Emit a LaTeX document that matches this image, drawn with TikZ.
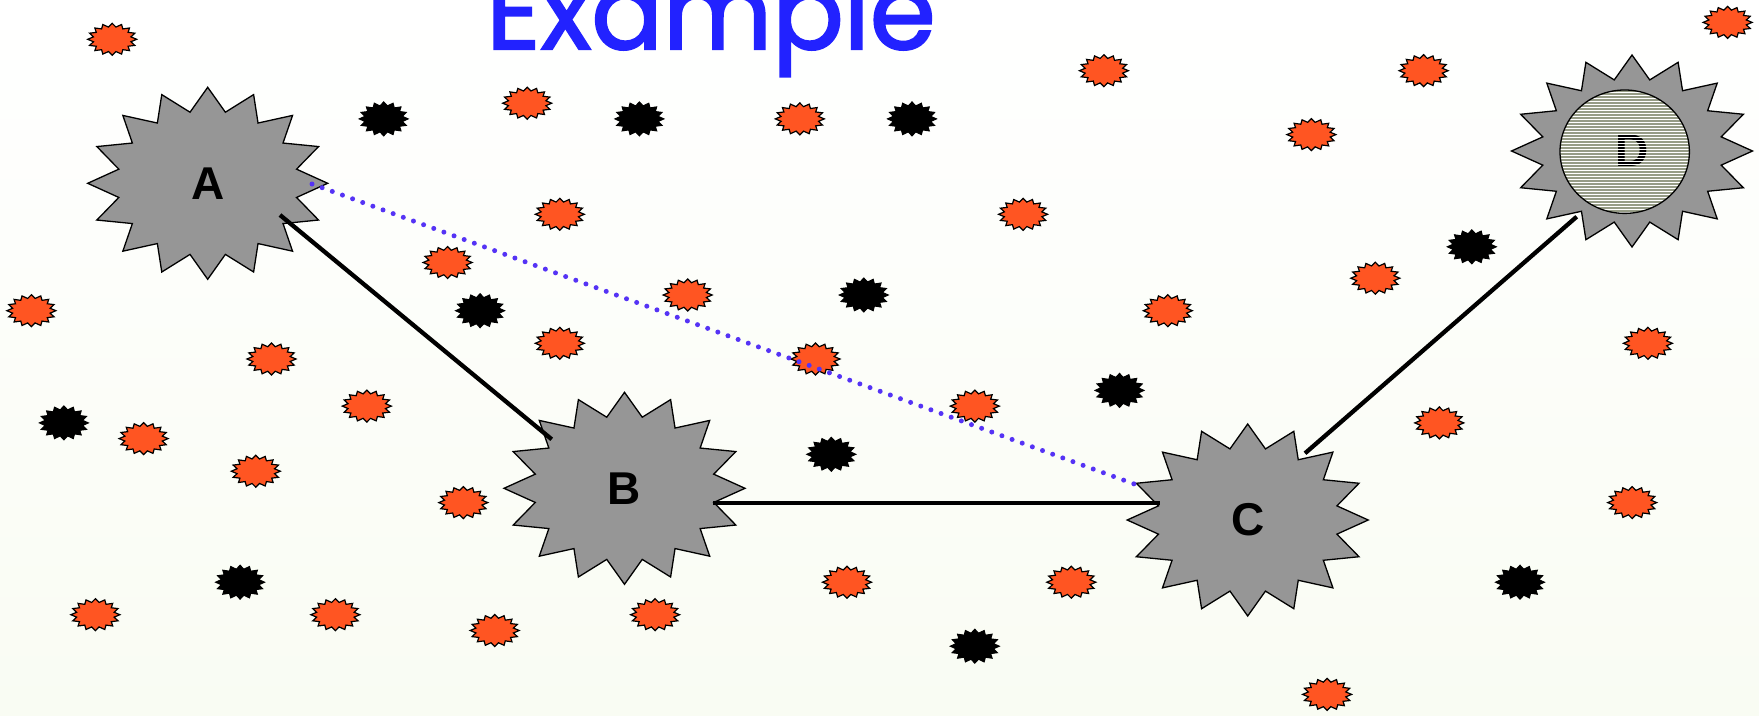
\documentclass[tikz,border=0pt]{standalone}
\usepackage{fontspec}
\setmainfont{Liberation Sans}
\newfontfamily\titlefont[FakeBold=2]{Poppins}
\definecolor{starorange}{RGB}{255,85,34}
\definecolor{stargray}{RGB}{150,150,150}
\definecolor{titleblue}{RGB}{34,34,255}
\definecolor{dotblue}{RGB}{85,51,245}
\definecolor{stripe}{RGB}{150,156,134}
\definecolor{bgbottom}{RGB}{249,252,243}
\newcommand\starplot[5]{plot[variable=\k, samples at={0,...,31}] ({#1+#3*(1-#5*mod(\k,2))*cos(90+11.25*\k)},{#2+#4*(1-#5*mod(\k,2))*sin(90+11.25*\k)}) -- cycle}
\tikzset{
  bigstarshape/.style={fill=stargray, draw=black, line width=1.3pt, line join=miter},
  orstar/.style={fill=starorange, draw=black, line width=1.2pt},
  blstar/.style={fill=black, draw=black, line width=1pt},
  lbl/.style={font=\bfseries\fontsize{46}{46}\selectfont, inner sep=0pt},
  edgeline/.style={line width=4.3pt, black},
  dotlink/.style={dotblue, line width=5pt, line cap=round, dash pattern=on 0pt off 10.8pt},
}
\newcommand\ostar[2]{\draw[orstar] \starplot{#1}{#2}{24.5}{16}{0.22};}
\newcommand\bstar[2]{\draw[blstar] \starplot{#1}{#2}{24.5}{17}{0.22};}
\begin{document}
\begin{tikzpicture}[x=1pt,y=-1pt]
\useasboundingbox (0,0) rectangle (1759,715);
\clip (0,0) rectangle (1759,715);
\shade[top color=white, middle color=white, bottom color=bgbottom] (0,0) rectangle (1759,715);
% title
\node[font=\titlefont\fontsize{106}{106}\selectfont, text=titleblue, anchor=base west, inner sep=0pt] (title) at (486,49) {Example};
% small orange stars
\ostar{112.2}{39.3}
\ostar{527.2}{103.2}
\ostar{799.8}{118.9}
\ostar{1103.9}{70.7}
\ostar{1423.6}{70.7}
\ostar{1727.6}{22.4}
\ostar{1311.4}{134.6}
\ostar{559.8}{214.3}
\ostar{1023.1}{214.3}
\ostar{447.6}{262.5}
\ostar{31.4}{310.7}
\ostar{687.7}{295}
\ostar{1375.3}{278.2}
\ostar{1167.8}{310.7}
\ostar{271.5}{359}
\ostar{559.8}{343.3}
\ostar{815.5}{359}
\ostar{1647.9}{343.3}
\ostar{366.8}{406.1}
\ostar{143.6}{438.6}
\ostar{974.8}{406.1}
\ostar{1439.3}{422.9}
\ostar{255.8}{471.2}
\ostar{463.3}{502.6}
\ostar{1632.2}{502.6}
\ostar{95.4}{614.7}
\ostar{335.4}{614.7}
\ostar{494.7}{630.5}
\ostar{655.1}{614.7}
\ostar{847}{582.2}
\ostar{1071.3}{582.2}
\ostar{1327.1}{694.4}
% small black stars
\bstar{383.7}{118.9}
\bstar{639.4}{118.9}
\bstar{912}{118.9}
\bstar{480.1}{310.7}
\bstar{863.8}{295}
\bstar{1471.8}{246.8}
\bstar{63.9}{422.9}
\bstar{1119.5}{390.4}
\bstar{831.3}{454.3}
\bstar{240.1}{582.2}
\bstar{974.8}{646.2}
\bstar{1520}{582.2}
% big stars
\draw[bigstarshape] \starplot{207.7}{183.3}{120}{96}{0.245};
\draw[bigstarshape] \starplot{624.5}{488.3}{120.5}{96}{0.245};
\draw[bigstarshape] \starplot{1247.7}{520}{120.5}{96}{0.245};
\draw[bigstarshape] \starplot{1632}{151}{120.5}{96}{0.245};
\node[lbl] (A) at (207.7,183.3) {A};
\node[lbl] (B) at (624.5,488.3) {B};
\node[lbl] (C) at (1247.7,520) {C};
% D with striped ellipse
\begin{scope}
  \clip (1624.7,151.7) ellipse [x radius=64.7pt, y radius=61.7pt];
  \fill[stripe] (1550,80) rectangle (1700,220);
  \node[lbl] (D) at (1632,151) {D};
  \foreach \yy in {89,92,...,215} \draw[white, line width=1pt] (1550,\yy) -- (1700,\yy);
\end{scope}
\draw[line width=1.3pt] (1624.7,151.7) ellipse [x radius=64.7pt, y radius=61.7pt];
% connectors
\draw[edgeline] ([shift={(72.3,31.7)}]A.center) -- ([shift={(-72.8,-49)}]B.center);
\draw[edgeline] ([shift={(88.5,15)}]B.center) -- ([shift={(-87.7,-16.7)}]C.center);
\draw[edgeline] ([shift={(57.3,-66.7)}]C.center) -- ([shift={(-55.3,65.7)}]D.center);
\draw[dotlink] ([shift={(104.3,0.7)}]A.center) -- ([shift={(-110.7,-35)}]C.center);
\end{tikzpicture}
\end{document}
